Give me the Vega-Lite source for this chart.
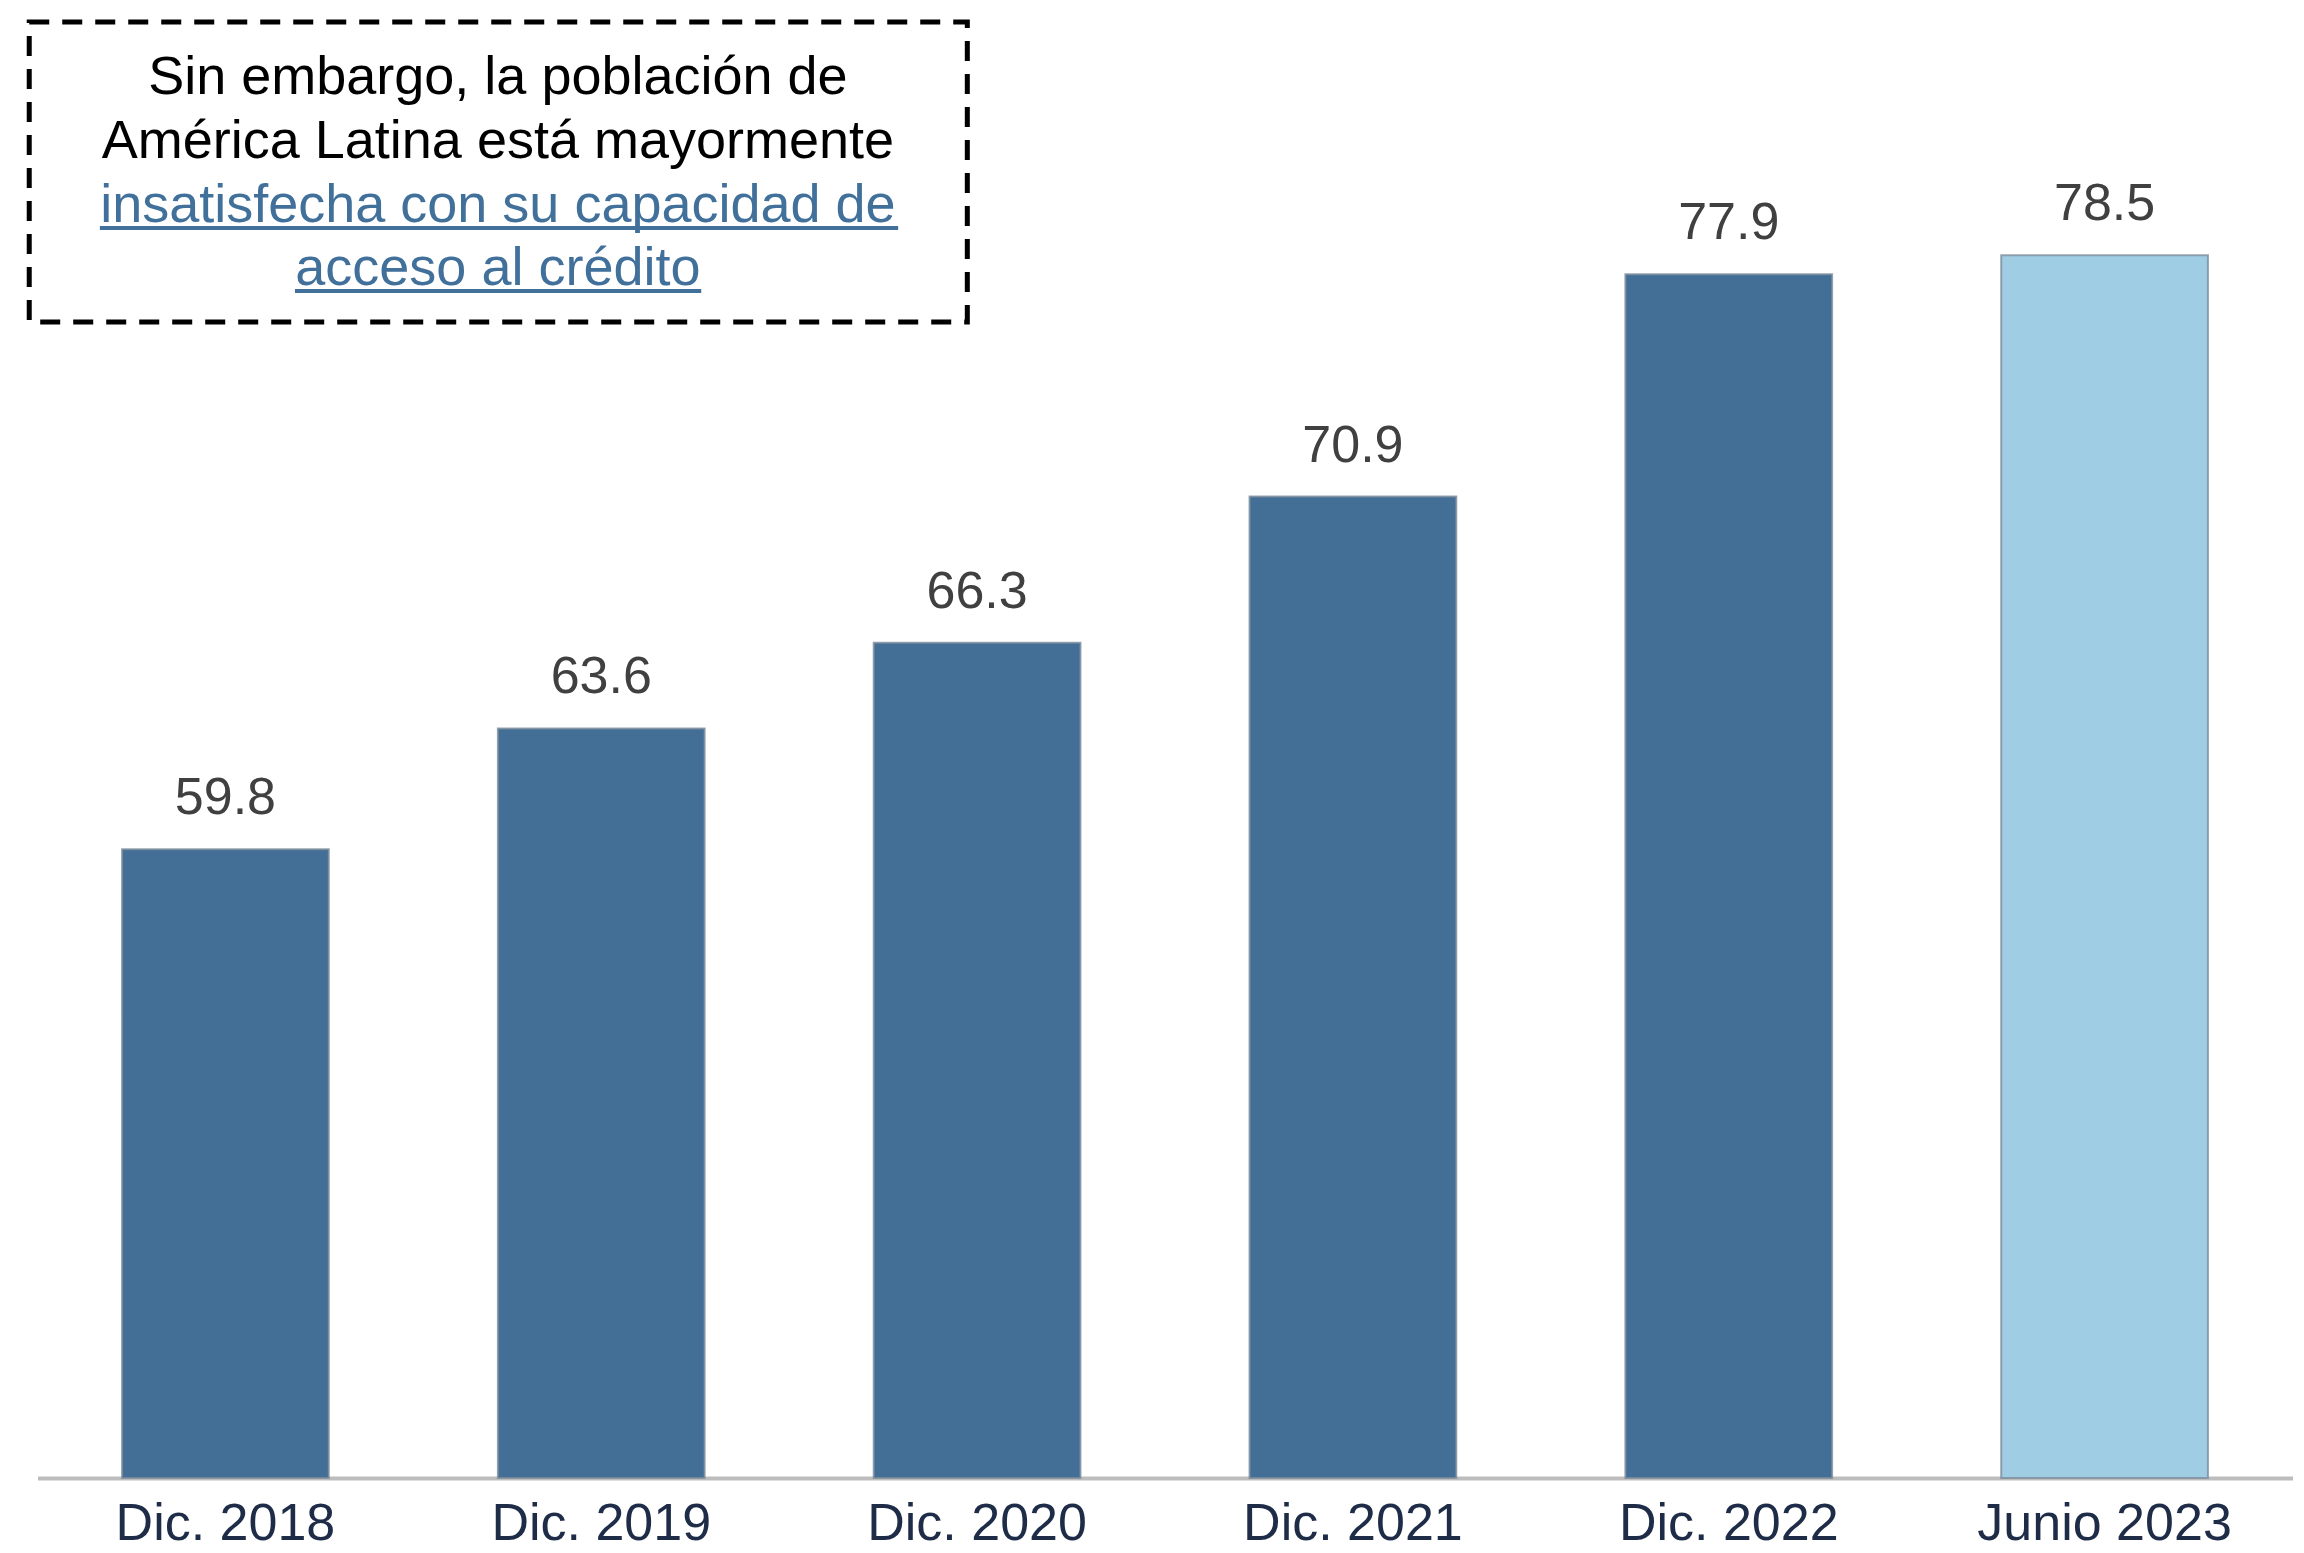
{
  "$schema": "https://vega.github.io/schema/vega-lite/v6.json",
  "width": 2255,
  "height": 1461,
  "autosize": "none",
  "padding": {"left": 37.5, "top": 17, "right": 11.5, "bottom": 75},
  "background": "white",
  "config": {"view": {"stroke": null}, "font": "Liberation Sans"},
  "datasets": {
    "barras": [
      {"periodo": "Dic. 2018", "valor": 59.8, "reciente": false},
      {"periodo": "Dic. 2019", "valor": 63.6, "reciente": false},
      {"periodo": "Dic. 2020", "valor": 66.3, "reciente": false},
      {"periodo": "Dic. 2021", "valor": 70.9, "reciente": false},
      {"periodo": "Dic. 2022", "valor": 77.9, "reciente": false},
      {"periodo": "Junio 2023", "valor": 78.5, "reciente": true}
    ],
    "caja": [{"x0": -0.022, "x1": 2.474, "y0": 76.4, "y1": 85.84}],
    "texto": [
      {"linea": "Sin embargo, la población de", "x": 1.225, "y": 84.08, "enlace": false},
      {"linea": "América Latina está mayormente", "x": 1.225, "y": 82.05, "enlace": false},
      {"linea": "insatisfecha con su capacidad de", "x": 1.225, "y": 80.05, "enlace": true},
      {"linea": "acceso al crédito", "x": 1.225, "y": 78.07, "enlace": true}
    ],
    "subrayado": [
      {"x0": 0.166, "x1": 2.29, "y": 79.36},
      {"x0": 0.685, "x1": 1.766, "y": 77.37}
    ]
  },
  "layer": [
    {
      "data": {"name": "barras"},
      "encoding": {
        "x": {
          "field": "periodo", "type": "nominal", "sort": null,
          "scale": {"paddingInner": 0.45, "paddingOuter": 0.225},
          "axis": {
            "title": null, "labelAngle": 0, "ticks": false, "labelPadding": 20,
            "labelFontSize": 52, "labelColor": "#1e2c48", "labelFont": "Liberation Sans",
            "labelLimit": 0, "labelOverlap": false,
            "domainColor": "#bdbdbd", "domainWidth": 4, "grid": false
          }
        },
        "y": {
          "field": "valor", "type": "quantitative",
          "scale": {"domain": [40, 86], "zero": false, "nice": false},
          "axis": null
        }
      },
      "layer": [
        {
          "mark": {"type": "bar", "stroke": "#7d8d9c", "strokeWidth": 2, "strokeOpacity": 0.8},
          "encoding": {
            "y2": {"datum": 40},
            "color": {
              "condition": {"test": "datum.reciente", "value": "#9fcde3"},
              "value": "#436f97"
            }
          }
        },
        {
          "mark": {"type": "text", "baseline": "middle", "dy": -51, "fontSize": 52, "color": "#404040"},
          "encoding": {"text": {"field": "valor", "type": "quantitative", "format": ".1f"}}
        }
      ]
    },
    {
      "data": {"name": "caja"},
      "mark": {"type": "rect", "fill": "transparent", "stroke": "black", "strokeWidth": 5, "strokeDash": [20, 13]},
      "encoding": {
        "x": {"field": "x0", "type": "quantitative", "scale": {"domain": [0, 6], "nice": false, "zero": false}, "axis": null},
        "x2": {"field": "x1"},
        "y": {"field": "y0", "type": "quantitative", "scale": {"domain": [40, 86], "zero": false, "nice": false}, "axis": null},
        "y2": {"field": "y1"}
      }
    },
    {
      "data": {"name": "texto"},
      "mark": {"type": "text", "align": "center", "baseline": "middle", "fontSize": 54, "font": "Liberation Sans"},
      "encoding": {
        "x": {"field": "x", "type": "quantitative", "scale": {"domain": [0, 6], "nice": false, "zero": false}, "axis": null},
        "y": {"field": "y", "type": "quantitative", "scale": {"domain": [40, 86], "zero": false, "nice": false}, "axis": null},
        "text": {"field": "linea"},
        "color": {"condition": {"test": "datum.enlace", "value": "#41709b"}, "value": "#000000"}
      }
    },
    {
      "data": {"name": "subrayado"},
      "mark": {"type": "rule", "color": "#41709b", "strokeWidth": 4},
      "encoding": {
        "x": {"field": "x0", "type": "quantitative", "scale": {"domain": [0, 6], "nice": false, "zero": false}, "axis": null},
        "x2": {"field": "x1"},
        "y": {"field": "y", "type": "quantitative", "scale": {"domain": [40, 86], "zero": false, "nice": false}, "axis": null}
      }
    }
  ],
  "resolve": {"scale": {"x": "independent"}}
}
